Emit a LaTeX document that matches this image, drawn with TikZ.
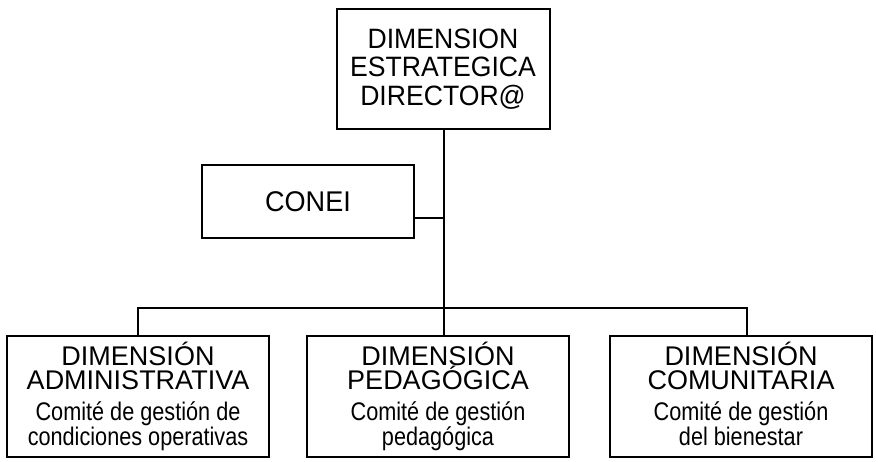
\documentclass[tikz,border=0pt]{standalone}
\usepackage{fontspec}
\setmainfont{Liberation Sans}
\newfontfamily\titlefont[FakeStretch=0.95]{Liberation Sans}
\newfontfamily\subfont[FakeStretch=0.85]{Liberation Sans}

% box contents: title lines, then the committee
\newcommand{\dimtext}[2]{\parbox{250pt}{\centering\lineskiplimit=-100pt
    \fontsize{27}{24}\selectfont #1\par\vspace{6pt}
    \subfont\fontsize{25.5}{25}\selectfont #2\vphantom{g}\par}}

\tikzset{
    unit/.style={draw, line width=2pt, inner sep=0pt, align=center},
    dimbox/.style={unit, minimum width=262pt, minimum height=121pt},
    link/.style={line width=2pt}
}

\begin{document}
\begin{tikzpicture}[x=1pt,y=-1pt]
    \useasboundingbox (0,0) rectangle (876,462);

    \node [unit, minimum width=213pt, minimum height=120pt] (dir) at (443,69)
        {\parbox{200pt}{\centering\titlefont\fontsize{28}{28.5}\selectfont
        DIMENSION\par ESTRATEGICA\par DIRECTOR@}};
    \node [unit, minimum width=212pt, minimum height=73pt,
        font=\titlefont\fontsize{28.5}{28.5}\selectfont] (conei) at (308,201.5) {CONEI};

    \node [dimbox] (adm) at (138,396.5)
        {\dimtext{DIMENSIÓN\par ADMINISTRATIVA}{Comité de gestión de\par condiciones operativas}};
    \node [dimbox] (ped) at (438,396.5)
        {\dimtext{DIMENSIÓN\par PEDAGÓGICA}{Comité de gestión\par pedagógica}};
    \node [dimbox] (com) at (741,396.5)
        {\dimtext{DIMENSIÓN\par COMUNITARIA}{Comité de gestión\par del bienestar}};

    % joint of conei, bus ends
    \coordinate (j) at (444,218);
    \coordinate (busr) at (747,308);

    \draw [link] (dir.south -| j) -- (j |- ped.north);
    \draw [link] (j) -- (j -| conei.east);
    \draw [link] (adm.north) |- (busr) -- (busr |- com.north);
\end{tikzpicture}
\end{document}
